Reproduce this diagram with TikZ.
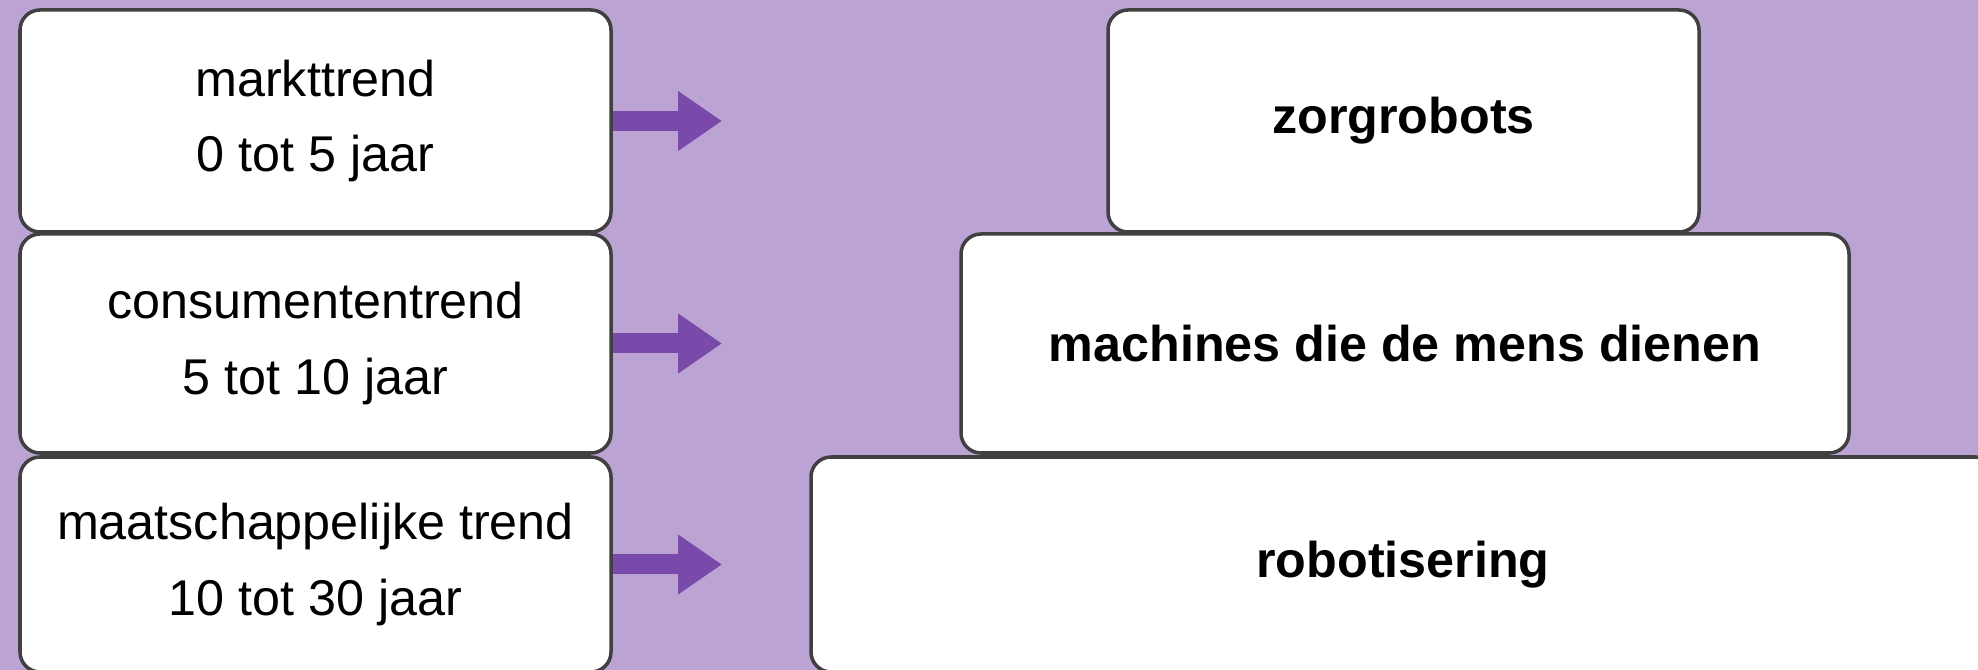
\documentclass[tikz,border=0pt]{standalone}
\usepackage{fontspec}
\setmainfont{Liberation Sans}
\usetikzlibrary{arrows.meta}
\definecolor{bgpurple}{HTML}{BBA4D4}
\definecolor{arrowpurple}{HTML}{7A4AAA}
\definecolor{boxline}{HTML}{404040}
\begin{document}
\begin{tikzpicture}[
    trendbox/.style={draw=boxline, line width=1pt, fill=white, rounded corners=0.2cm,
      inner sep=0pt, align=center, font=\fontsize{14.3}{21.6}\selectfont},
    levelbox/.style={trendbox, font=\fontsize{14.3}{21.6}\selectfont\bfseries},
    fat/.style={draw=arrowpurple, line width=0.2cm,
      -{Triangle[width=0.57cm, length=0.44cm, fill=arrowpurple]}}
  ]
    \fill[bgpurple] (0,0) rectangle (19.78,6.70);
    \clip (0,0) rectangle (19.78,6.70);
    % trends on the left
    \node[trendbox, minimum width=5.91cm, minimum height=2.22cm] (markt) at (3.155,5.49)
      {markttrend\\0 tot 5 jaar};
    \node[trendbox, minimum width=5.91cm, minimum height=2.19cm] (consument) at (3.155,3.265)
      {consumententrend\\5 tot 10 jaar};
    \node[trendbox, minimum width=5.91cm, minimum height=2.15cm] (maatschappij) at (3.155,1.055)
      {maatschappelijke trend\\10 tot 30 jaar};
    % pyramid on the right
    \node[levelbox, minimum width=5.91cm, minimum height=2.22cm] (zorg) at (14.035,5.49)
      {zorgrobots};
    \node[levelbox, minimum width=8.88cm, minimum height=2.19cm] (machines) at (14.05,3.265)
      {machines die de mens dienen};
    \node[levelbox, minimum width=11.84cm, minimum height=2.15cm] (robot) at (14.03,1.055)
      {robotisering};
    % arrows
    \coordinate (tip) at (7.22,0);
    \draw[fat] (markt.east) -- (markt.east -| tip);
    \draw[fat] (consument.east) -- (consument.east -| tip);
    \draw[fat] (maatschappij.east) -- (maatschappij.east -| tip);
\end{tikzpicture}
\end{document}
